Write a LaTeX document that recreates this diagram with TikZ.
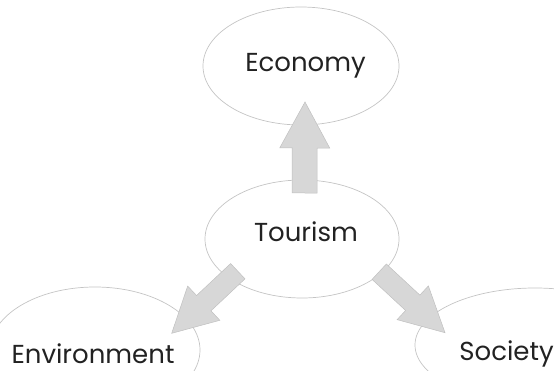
\documentclass[tikz,border=0pt]{standalone}
\usepackage{fontspec}
\setmainfont{Poppins}
\usetikzlibrary{shapes.geometric,calc}

\definecolor{ringline}{HTML}{C4C4C4}
\definecolor{arrowfill}{HTML}{D7D7D7}
\definecolor{arrowline}{HTML}{C0C0C0}
\definecolor{labeltext}{HTML}{222222}

\tikzset{
  ring/.style={ellipse, draw=ringline, line width=0.7pt, inner sep=0pt},
  tag/.style={anchor=base, text=labeltext, inner sep=0pt,
              font=\fontsize{26}{30}\selectfont},
  blockarrow/.style={fill=arrowfill, draw=arrowline, line width=0.5pt, line join=miter}
}

% block arrow: #1 tail, #2 tip, #3 half shaft width, #4 half head width, #5 head length
\newcommand\blockarrow[5]{%
  \path ($(#2)!#5!(#1)$) coordinate (hb);
  \draw[blockarrow]
    ($(#1)!#3!90:(#2)$) -- ($(hb)!#3!90:(#2)$) -- ($(hb)!#4!90:(#2)$) -- (#2)
    -- ($(hb)!#4!-90:(#2)$) -- ($(hb)!#3!-90:(#2)$) -- ($(#1)!#3!-90:(#2)$) -- cycle;
}

\begin{document}
\begin{tikzpicture}[x=1pt, y=-1pt]
  \useasboundingbox (0,0) rectangle (554,371);
  \clip (0,0) rectangle (554,371);

  % the four circles of the model
  \node[ring, minimum width=196, minimum height=118] (economy) at (301,66) {};
  \node[ring, minimum width=194, minimum height=118] (tourism) at (302,239) {};
  \node[ring, minimum width=210, minimum height=126] (environment) at (95,350) {};
  \node[ring, minimum width=240, minimum height=114] (society) at (535,345) {};

  % arrow anchor points
  \coordinate (upTail) at (304.5,193);
  \coordinate (upTip) at (305,102);
  \coordinate (leftTail) at (237.8,271.2);
  \coordinate (leftTip) at (171.7,333.3);
  \coordinate (rightTail) at (379.2,271.7);
  \coordinate (rightTip) at (445,332.7);

  \blockarrow{upTail}{upTip}{12.5pt}{25pt}{46pt}
  \blockarrow{leftTail}{leftTip}{10.5pt}{23.5pt}{44pt}
  \blockarrow{rightTail}{rightTip}{10.5pt}{23pt}{44pt}

  % labels
  \node[tag] (economyText) at (305.5,72) {Economy};
  \node[tag] (tourismText) at (306,242) {Tourism};
  \node[tag] (environmentText) at (93,363) {Environment};
  \node[tag] (societyText) at (506.5,360) {Society};
\end{tikzpicture}
\end{document}
